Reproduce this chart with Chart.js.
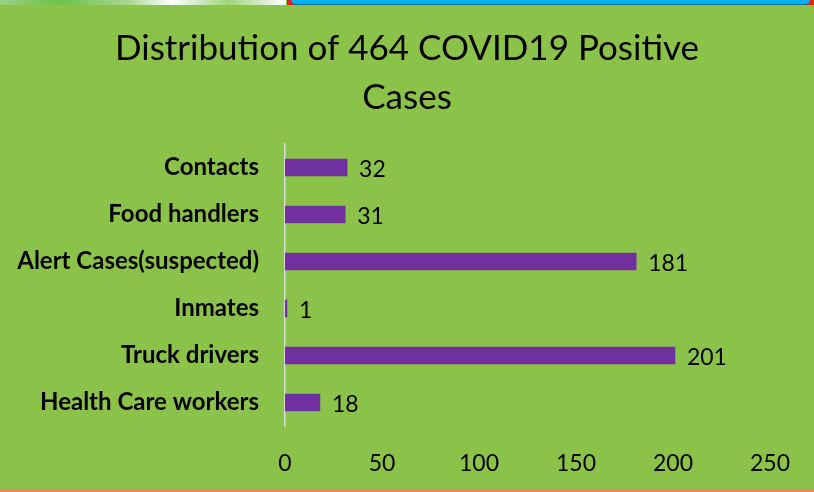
<!DOCTYPE html>
<html>
<head>
<meta charset="utf-8">
<script src="https://cdn.jsdelivr.net/npm/chart.js@4"></script>
<style>
  html, body { margin: 0; padding: 0; }
  body { width: 814px; height: 492px; background: #8BC34A; position: relative; overflow: hidden; }
  #wrap { position: absolute; left: 0; top: 0; width: 814px; height: 492px; }
  .topleft { position: absolute; left: 0; top: 0; width: 286px; height: 5px; background: linear-gradient(90deg, #9fd08a, #6cc24a 20%, #a7d68f 45%, #ffffff 60%, #9ed47d 80%, #ffffff); }
  .topright { position: absolute; left: 287px; top: 0; width: 527px; height: 5px; background: #e2231a; }
  .topright div { position: absolute; left: 4px; right: 4px; top: 0; height: 4px; background: #00b0f0; border-bottom: 1px solid #0a6b8e; border-radius: 0 0 6px 6px; }
  .bottom { position: absolute; left: 0; bottom: 0; width: 814px; height: 3px; background: #E8875F; }
</style>
</head>
<body>
<div class="topleft"></div>
<div class="topright"><div></div></div>
<div id="wrap"><canvas id="chart"></canvas></div>
<div class="bottom"></div>
<script>
// data (top to bottom)
const categories = ['Contacts', 'Food handlers', 'Alert Cases(suspected)', 'Inmates', 'Truck drivers', 'Health Care workers'];
const cases = [32, 31, 181, 1, 201, 18];
const xTicks = [0, 50, 100, 150, 200, 250];

const fontFamily = 'Lato, "Open Sans", sans-serif';

// draws the value just right of each bar
const valueLabels = {
    id: 'valueLabels',
    afterDatasetsDraw(chart) {
        const ctx = chart.ctx;
        const meta = chart.getDatasetMeta(0);
        ctx.save();
        ctx.font = '23px ' + fontFamily;
        ctx.fillStyle = '#000';
        ctx.textAlign = 'left';
        ctx.textBaseline = 'middle';
        meta.data.forEach((bar, i) => {
            ctx.fillText(String(cases[i]), bar.x + 12, bar.y + 2);
        });
        ctx.restore();
    }
};

new Chart(document.getElementById('chart').getContext('2d'), {
    type: 'bar',
    data: {
        labels: categories,
        datasets: [{
            data: cases,
            backgroundColor: '#7030A0',
            borderWidth: 0,
            barThickness: 17
        }]
    },
    plugins: [valueLabels],
    options: {
        indexAxis: 'y',
        responsive: true,
        maintainAspectRatio: false,
        animation: false,
        layout: { padding: { left: 0, right: 0, top: 24, bottom: 0 } },
        plugins: {
            legend: { display: false },
            tooltip: { enabled: false },
            title: {
                display: true,
                text: ['Distribution of 464 COVID19 Positive', 'Cases'],
                color: '#000',
                font: { family: fontFamily, size: 35, weight: 'normal', lineHeight: 1.4 },
                padding: { top: 0, bottom: 22 }
            }
        },
        scales: {
            x: {
                min: 0,
                max: 250,
                afterBuildTicks: function(axis) {
                    axis.ticks = xTicks.map(v => ({ value: v }));
                },
                afterFit: function(axis) {
                    axis.height = 66;
                    axis.paddingRight = 44;
                },
                grid: { display: false },
                border: { display: false },
                ticks: {
                    color: '#000',
                    font: { family: fontFamily, size: 23 },
                    padding: 16,
                    maxRotation: 0
                }
            },
            y: {
                afterFit: function(axis) {
                    axis.width = 285;
                },
                grid: { display: false },
                border: { display: true, color: '#D9D9D9', width: 1.5 },
                ticks: {
                    color: '#000',
                    font: { family: fontFamily, size: 24, weight: 'bold' },
                    padding: 18
                }
            }
        }
    }
});
</script>
</body>
</html>
